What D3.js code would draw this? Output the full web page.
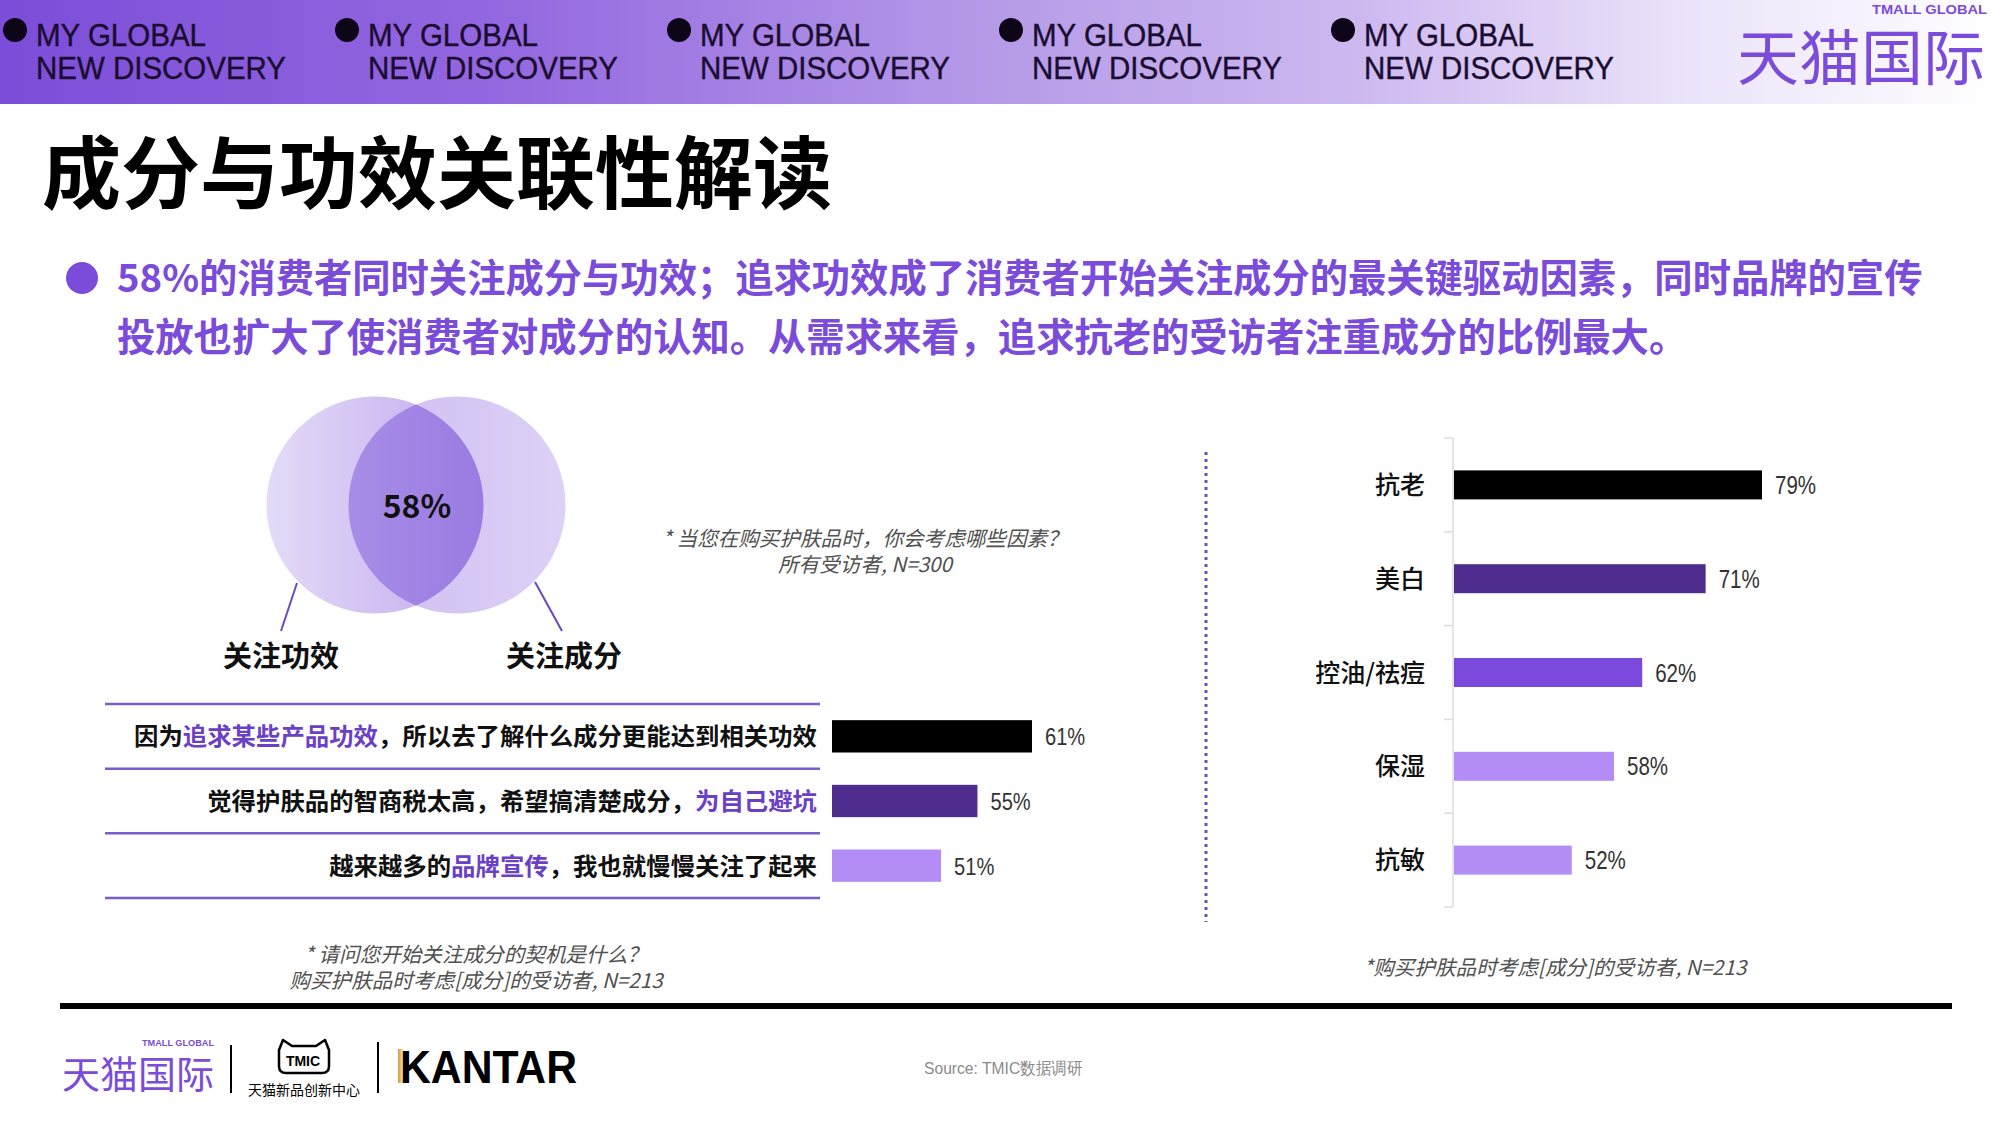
<!DOCTYPE html>
<html>
<head>
  <meta charset="utf-8">
  <title>成分与功效关联性解读</title>
  <script src="https://d3js.org/d3.v7.min.js"></script>
  <style>
    body { margin: 0; background: #fff; }
    svg { display: block; }
  </style>
</head>
<body>
  <svg id="chart"></svg>

  <script>
    // Data
    const overlapShare = 58;
    const vennLabels = ["关注功效", "关注成分"];

    const reasons = [
      "因为追求某些产品功效，所以去了解什么成分更能达到相关功效",
      "觉得护肤品的智商税太高，希望搞清楚成分，为自己避坑",
      "越来越多的品牌宣传，我也就慢慢关注了起来"
    ];
    const reasonHighlights = ["追求某些产品功效", "为自己避坑", "品牌宣传"];
    const reasonValues = [61, 55, 51];

    const benefits = ["抗老", "美白", "控油/祛痘", "保湿", "抗敏"];
    const benefitValues = [79, 71, 62, 58, 52];

    const reasonColors = ["#000000", "#4f2d8e", "#b48cf5"];
    const benefitColors = ["#000000", "#4f2d8e", "#7a48db", "#b48cf5", "#b48cf5"];

    const purple = "#7b4cd9";
    const cjk = "'Noto Sans CJK SC', 'Noto Sans', sans-serif";
    const latin = "'Liberation Sans', Arial, sans-serif";

    const svg = d3.select("#chart")
                  .attr("width", 2000)
                  .attr("height", 1125);

    const defs = svg.append("defs");

    // squeeze a text horizontally (no narrow font installed)
    function condense(sel, k) {
      sel.each(function () {
        const w = this.getComputedTextLength();
        d3.select(this).attr("textLength", w * k).attr("lengthAdjust", "spacingAndGlyphs");
      });
    }

    // Gradients
    function gradient(id, stops) {
      const g = defs.append("linearGradient").attr("id", id)
                    .attr("x1", "0%").attr("x2", "100%").attr("y1", "0%").attr("y2", "0%");
      stops.forEach(s => g.append("stop").attr("offset", s[0]).attr("stop-color", s[1]));
    }
    gradient("hdr", [["0%", "#7c4dd8"], ["25%", "#9468e0"], ["50%", "#b69be8"], ["68%", "#cdb9f0"], ["85%", "#ece4fa"], ["100%", "#ffffff"]]);
    gradient("circL", [["0%", "#e4dbf8"], ["100%", "#bfa9ed"]]);
    gradient("circR", [["0%", "#cdbcf1"], ["100%", "#ddd1f6"]]);
    gradient("circI", [["0%", "#a88de7"], ["100%", "#9170df"]]);
    gradient("gold", [["0%", "#c89e3c"], ["100%", "#f3e3b0"]]);

    // Header band
    svg.append("rect").attr("x", 0).attr("y", 0).attr("width", 2000).attr("height", 104)
       .attr("fill", "url(#hdr)");

    const hdr = svg.append("g").selectAll("g")
                   .data(d3.range(5))
                   .enter().append("g")
                   .attr("transform", i => `translate(${3 + i * 332},0)`);
    hdr.append("circle").attr("cx", 12).attr("cy", 30).attr("r", 12).attr("fill", "#0d0618");
    hdr.append("text").attr("x", 33).attr("y", 46).text("MY GLOBAL")
       .attr("textLength", 170).attr("lengthAdjust", "spacingAndGlyphs");
    hdr.append("text").attr("x", 33).attr("y", 79).text("NEW DISCOVERY")
       .attr("textLength", 250).attr("lengthAdjust", "spacingAndGlyphs");
    hdr.selectAll("text").attr("font-family", latin).attr("font-size", 31)
       .attr("fill", "#1a0d30").attr("stroke", "#1a0d30").attr("stroke-width", 0.4);

    svg.append("text").attr("x", 1987).attr("y", 14).attr("text-anchor", "end")
       .attr("font-family", latin).attr("font-weight", 700)
       .attr("font-size", 12.5).attr("fill", purple).text("TMALL GLOBAL")
       .attr("textLength", 115).attr("lengthAdjust", "spacingAndGlyphs");
    svg.append("text").attr("x", 1737).attr("y", 80)
       .attr("font-family", cjk).attr("font-weight", 400).attr("font-size", 60)
       .attr("fill", purple).text("天猫国际")
       .attr("textLength", 248).attr("lengthAdjust", "spacingAndGlyphs");

    // Title and bullet
    svg.append("text").attr("x", 42).attr("y", 203)
       .attr("font-family", cjk).attr("font-weight", 700).attr("font-size", 79)
       .attr("fill", "#000").text("成分与功效关联性解读");

    svg.append("circle").attr("cx", 82).attr("cy", 278).attr("r", 16).attr("fill", purple);
    const bullet = svg.append("text").attr("font-family", cjk).attr("font-weight", 700)
                      .attr("font-size", 38.3).attr("fill", purple);
    bullet.append("tspan").attr("x", 117).attr("y", 292)
          .text("58%的消费者同时关注成分与功效；追求功效成了消费者开始关注成分的最关键驱动因素，同时品牌的宣传");
    bullet.append("tspan").attr("x", 117).attr("y", 351)
          .text("投放也扩大了使消费者对成分的认知。从需求来看，追求抗老的受访者注重成分的比例最大。");

    // Venn
    const venn = { lx: 375, rx: 457, cy: 505, r: 108.5 };
    defs.append("clipPath").attr("id", "clipL")
        .append("circle").attr("cx", venn.lx).attr("cy", venn.cy).attr("r", venn.r);
    svg.append("circle").attr("cx", venn.lx).attr("cy", venn.cy).attr("r", venn.r).attr("fill", "url(#circL)");
    svg.append("circle").attr("cx", venn.rx).attr("cy", venn.cy).attr("r", venn.r).attr("fill", "url(#circR)");
    svg.append("circle").attr("cx", venn.rx).attr("cy", venn.cy).attr("r", venn.r)
       .attr("clip-path", "url(#clipL)").attr("fill", "url(#circI)");
    svg.append("text").attr("x", 417).attr("y", 518).attr("text-anchor", "middle")
       .attr("font-family", cjk).attr("font-weight", 700).attr("font-size", 32)
       .attr("fill", "#111").text(overlapShare + "%");

    svg.append("line").attr("class", "lead").attr("x1", 297).attr("y1", 583).attr("x2", 281).attr("y2", 631);
    svg.append("line").attr("class", "lead").attr("x1", 535).attr("y1", 582).attr("x2", 562).attr("y2", 631);
    svg.selectAll(".lead").attr("stroke", "#6a48c0").attr("stroke-width", 2);

    svg.selectAll(".vlab").data(vennLabels).enter().append("text")
       .attr("x", (d, i) => [281, 564][i]).attr("y", 667).attr("text-anchor", "middle")
       .attr("font-family", cjk).attr("font-weight", 700).attr("font-size", 29)
       .attr("fill", "#111").text(d => d);

    // Notes
    function note(x, lines, y0, dy) {
      svg.append("g").selectAll("text").data(lines).enter().append("text")
         .attr("x", x).attr("y", (d, i) => y0 + i * dy).attr("text-anchor", "middle")
         .attr("font-family", cjk).attr("font-style", "italic").attr("font-size", 20.6)
         .attr("fill", "#505050").text(d => d);
    }
    note(865, ["* 当您在购买护肤品时，你会考虑哪些因素？", "所有受访者, N=300"], 546, 26);
    note(476, ["* 请问您开始关注成分的契机是什么？", "购买护肤品时考虑[成分]的受访者, N=213"], 962, 26);
    note(1555, ["*购买护肤品时考虑[成分]的受访者, N=213"], 975, 26);

    // Left bar chart: reasons
    const yL = d3.scaleBand().domain(reasons).range([704, 898]);
    const xL = d3.scaleLinear().domain([39, 61]).range([832, 1032]);
    const lh = yL.bandwidth() * 0.5;

    svg.append("g").selectAll("line")
       .data(reasons.map(d => yL(d)).concat([yL.range()[1]]))
       .enter().append("line")
       .attr("x1", 105).attr("x2", 820).attr("y1", d => d).attr("y2", d => d)
       .attr("stroke", "#7a5ccc").attr("stroke-width", 2.5);

    svg.append("g").selectAll("rect").data(reasons).enter().append("rect")
       .attr("x", xL.range()[0])
       .attr("y", d => yL(d) + (yL.bandwidth() - lh) / 2)
       .attr("width", (d, i) => xL(reasonValues[i]) - xL.range()[0])
       .attr("height", lh)
       .attr("fill", (d, i) => reasonColors[i]);

    svg.append("g").selectAll("text").data(reasons).enter().append("text")
       .attr("x", (d, i) => xL(reasonValues[i]) + 13)
       .attr("y", d => yL(d) + yL.bandwidth() / 2 + 9)
       .attr("font-family", latin).attr("font-size", 24.5).attr("fill", "#333")
       .text((d, i) => reasonValues[i] + "%")
       .call(condense, 0.82);

    const rl = svg.append("g").selectAll("text").data(reasons).enter().append("text")
       .attr("x", 817).attr("y", d => yL(d) + yL.bandwidth() / 2 + 9)
       .attr("text-anchor", "end")
       .attr("font-family", cjk).attr("font-weight", 700).attr("font-size", 24.4)
       .attr("fill", "#111");
    rl.each(function (d, i) {
      const h = reasonHighlights[i];
      const k = d.indexOf(h);
      const parts = [[d.slice(0, k), "#111"], [h, "#6a40c6"], [d.slice(k + h.length), "#111"]];
      d3.select(this).selectAll("tspan").data(parts.filter(p => p[0].length)).enter()
        .append("tspan").attr("fill", p => p[1]).text(p => p[0]);
    });

    // Divider
    svg.append("line").attr("x1", 1206).attr("x2", 1206).attr("y1", 452).attr("y2", 922)
       .attr("stroke", "#6f52b8").attr("stroke-width", 3).attr("stroke-dasharray", "3,4");

    // Right bar chart: benefits
    const yR = d3.scaleBand().domain(benefits).range([438, 907]);
    const xR = d3.scaleLinear().domain([35.15, 79]).range([1453, 1762]);
    const rh = 29;

    svg.append("line").attr("x1", 1453).attr("x2", 1453)
       .attr("y1", yR.range()[0]).attr("y2", yR.range()[1])
       .attr("stroke", "#dcdcdc").attr("stroke-width", 1.5);
    svg.append("g").selectAll("line")
       .data(benefits.map(d => yR(d)).concat([yR.range()[1]]))
       .enter().append("line")
       .attr("x1", 1444).attr("x2", 1453).attr("y1", d => d).attr("y2", d => d)
       .attr("stroke", "#dcdcdc").attr("stroke-width", 1.5);

    svg.append("g").selectAll("rect").data(benefits).enter().append("rect")
       .attr("x", xR.range()[0] + 1)
       .attr("y", d => yR(d) + (yR.bandwidth() - rh) / 2)
       .attr("width", (d, i) => xR(benefitValues[i]) - xR.range()[0] - 1)
       .attr("height", rh)
       .attr("fill", (d, i) => benefitColors[i]);

    svg.append("g").selectAll("text").data(benefits).enter().append("text")
       .attr("x", (d, i) => xR(benefitValues[i]) + 13)
       .attr("y", d => yR(d) + yR.bandwidth() / 2 + 9)
       .attr("font-family", latin).attr("font-size", 25).attr("fill", "#333")
       .text((d, i) => benefitValues[i] + "%")
       .call(condense, 0.82);

    svg.append("g").selectAll("text").data(benefits).enter().append("text")
       .attr("x", 1425).attr("y", d => yR(d) + yR.bandwidth() / 2 + 9)
       .attr("text-anchor", "end")
       .attr("font-family", cjk).attr("font-weight", 500).attr("font-size", 25)
       .attr("fill", "#111").text(d => d);

    // Footer
    svg.append("rect").attr("x", 60).attr("y", 1003).attr("width", 1892).attr("height", 6).attr("fill", "#000");

    svg.append("text").attr("x", 214).attr("y", 1046).attr("text-anchor", "end")
       .attr("font-family", latin).attr("font-weight", 700)
       .attr("font-size", 9).attr("fill", purple).text("TMALL GLOBAL")
       .attr("textLength", 72).attr("lengthAdjust", "spacingAndGlyphs");
    svg.append("text").attr("x", 62).attr("y", 1088)
       .attr("font-family", cjk).attr("font-size", 38).attr("fill", purple).text("天猫国际")
       .attr("textLength", 152).attr("lengthAdjust", "spacingAndGlyphs");

    svg.append("line").attr("x1", 231).attr("x2", 231).attr("y1", 1045).attr("y2", 1093)
       .attr("stroke", "#000").attr("stroke-width", 2);
    svg.append("line").attr("x1", 378).attr("x2", 378).attr("y1", 1042).attr("y2", 1093)
       .attr("stroke", "#000").attr("stroke-width", 2);

    svg.append("path")
       .attr("d", "M279,1050 L283,1040 L292,1046 L316,1046 L325,1040 L329,1050 L329,1066 Q329,1073 322,1073 L286,1073 Q279,1073 279,1066 Z")
       .attr("fill", "none").attr("stroke", "#000").attr("stroke-width", 2.5).attr("stroke-linejoin", "round");
    svg.append("text").attr("x", 303).attr("y", 1066).attr("text-anchor", "middle")
       .attr("font-family", latin).attr("font-weight", 700)
       .attr("font-size", 14).attr("fill", "#000").text("TMIC");
    svg.append("text").attr("x", 304).attr("y", 1095).attr("text-anchor", "middle")
       .attr("font-family", cjk).attr("font-size", 14).attr("fill", "#000").text("天猫新品创新中心")
       .attr("textLength", 112).attr("lengthAdjust", "spacingAndGlyphs");

    svg.append("rect").attr("x", 398).attr("y", 1049).attr("width", 5).attr("height", 34).attr("fill", "url(#gold)");
    svg.append("text").attr("x", 400).attr("y", 1083)
       .attr("font-family", latin).attr("font-weight", 700)
       .attr("font-size", 46).attr("fill", "#000").text("KANTAR")
       .attr("textLength", 177).attr("lengthAdjust", "spacingAndGlyphs");

    svg.append("text").attr("x", 924).attr("y", 1074)
       .attr("font-family", latin).attr("font-size", 17).attr("fill", "#8a8a8a")
       .text("Source: TMIC数据调研")
       .call(condense, 0.92);
  </script>
</body>
</html>
